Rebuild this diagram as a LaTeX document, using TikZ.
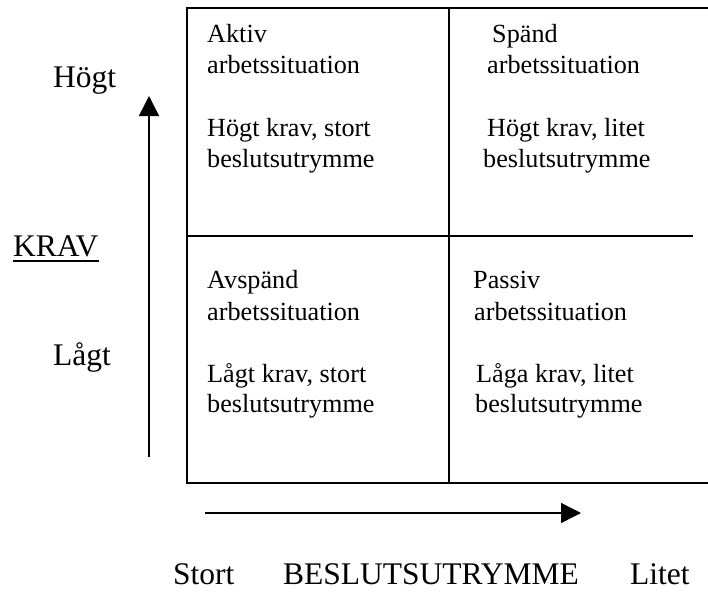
\documentclass[tikz,border=0pt]{standalone}
\usepackage{fontspec}
\setmainfont{Liberation Serif}
\usetikzlibrary{arrows.meta}
\begin{document}
\begin{tikzpicture}[x=1pt,y=-1pt,
  cell/.style={anchor=base west,inner sep=0pt,font=\fontsize{26.2}{30}\selectfont},
  axislbl/.style={anchor=base west,inner sep=0pt,font=\fontsize{31.5}{36}\selectfont},
  frame/.style={line width=2.2pt},
  grid/.style={line width=1.5pt},
  axisarrow/.style={line width=1.4pt,-{Triangle[length=20pt,width=20pt]}}]
\useasboundingbox (0,0) rectangle (708,591);
% frame
\coordinate (tl) at (187,8);
\coordinate (tr) at (708,8);
\coordinate (bl) at (187,483);
\coordinate (br) at (708,483);
\coordinate (mt) at (449,8);
\coordinate (mb) at (449,483);
\coordinate (ml) at (187,236);
\coordinate (mr) at (693,236);
\draw[frame] (tr) -- (tl) -- (bl) -- (br);
\draw[grid] (mt) -- (mb);
\draw[grid] (ml) -- (mr);
% cells
\node[cell] (a1) at (207,43) {Aktiv};
\node[cell] (a2) at (207,74) {arbetssituation};
\node[cell] (a3) at (207,136) {Högt krav, stort};
\node[cell] (a4) at (207,167) {beslutsutrymme};
\node[cell] (s1) at (492,43) {Spänd};
\node[cell] (s2) at (487,74) {arbetssituation};
\node[cell] (s3) at (487,136) {Högt krav, litet};
\node[cell] (s4) at (483,167) {beslutsutrymme};
\node[cell] (v1) at (207,288) {Avspänd};
\node[cell] (v2) at (207,320) {arbetssituation};
\node[cell] (v3) at (207,382) {Lågt krav, stort};
\node[cell] (v4) at (207,412) {beslutsutrymme};
\node[cell] (p1) at (473,288) {Passiv};
\node[cell] (p2) at (474,320) {arbetssituation};
\node[cell] (p3) at (476,382) {Låga krav, litet};
\node[cell] (p4) at (475,412) {beslutsutrymme};
% axis labels
\node[axislbl] (hogt) at (53,88) {Högt};
\node[axislbl] (krav) at (13,256) {KRAV};
\draw[line width=2pt] ([yshift=-4.5pt]krav.base west) -- ([yshift=-4.5pt]krav.base east);
\node[axislbl] (lagt) at (53,365) {Lågt};
\node[axislbl] (stort) at (173,584) {Stort};
\node[axislbl] (besl) at (283,584) {BESLUTSUTRYMME};
\node[axislbl] (litet) at (630,584) {Litet};
% arrows
\coordinate (vs) at (149,457);
\coordinate (ve) at (149,96);
\coordinate (hs) at (205,513);
\coordinate (he) at (581,513);
\draw[axisarrow] (vs) -- (ve);
\draw[axisarrow] (hs) -- (he);
\end{tikzpicture}
\end{document}
